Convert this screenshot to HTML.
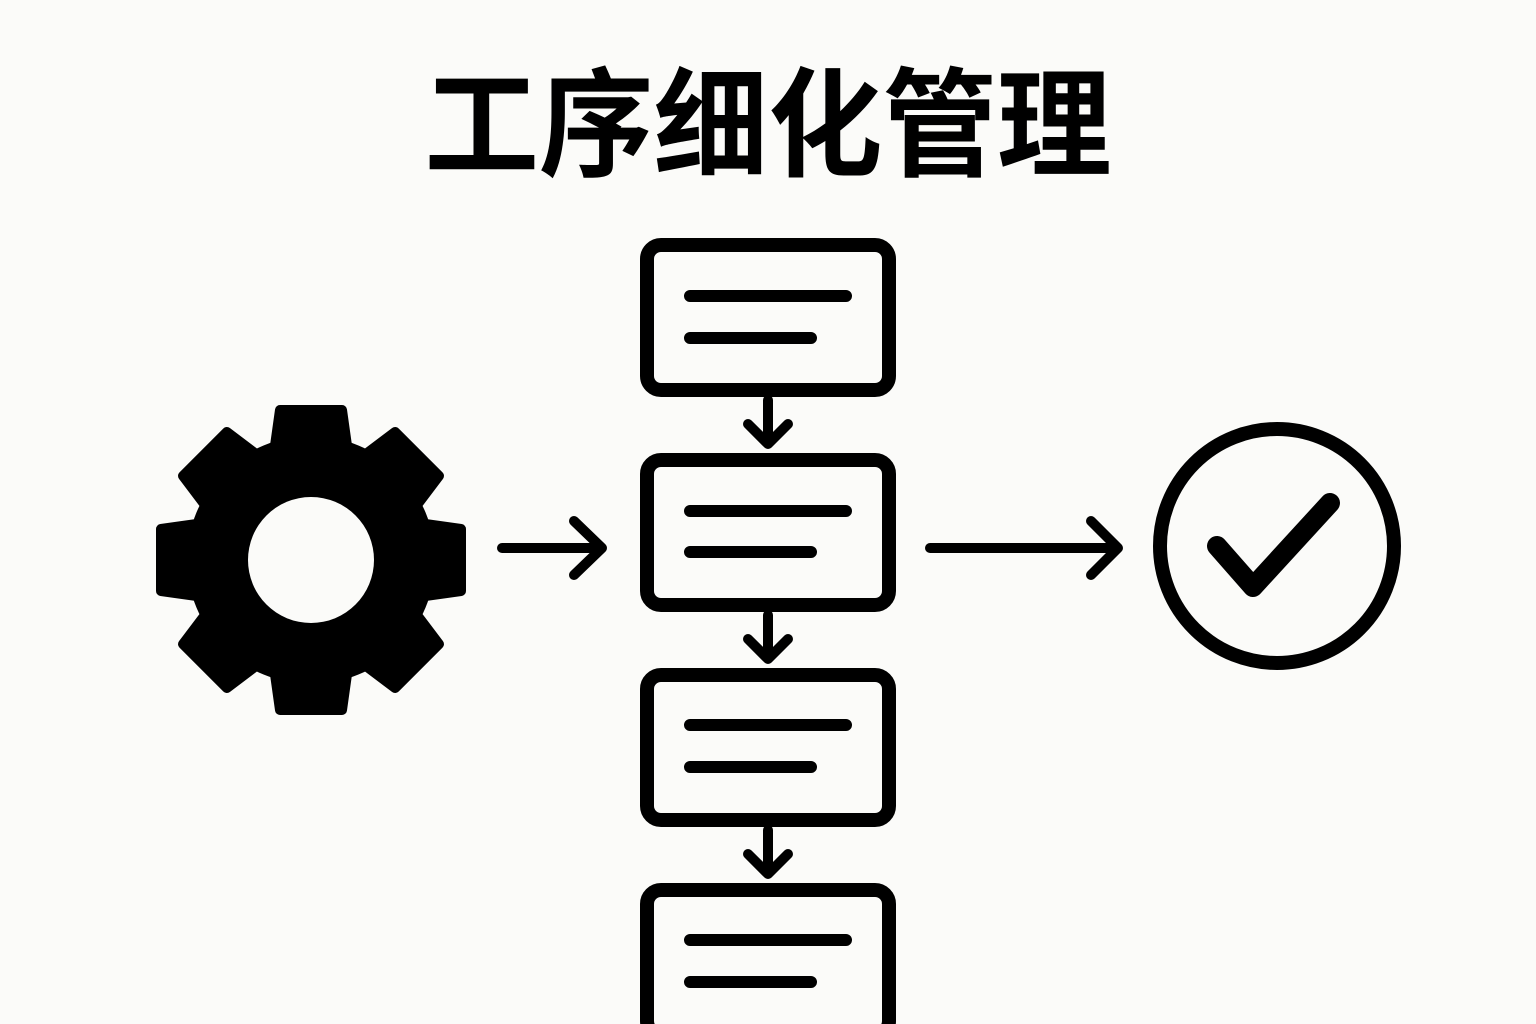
<!DOCTYPE html>
<html><head><meta charset="utf-8"><style>
html,body{margin:0;padding:0;background:#fbfbf9;}
svg{display:block}
</style></head><body>
<svg width="1536" height="1024" viewBox="0 0 1536 1024" xmlns="http://www.w3.org/2000/svg">
<defs>
  <path id="tooth" d="M-38 -100L-31 -150L31 -150L38 -100Z" stroke="#000" stroke-width="10" stroke-linejoin="round" fill="#000"/>
</defs>
<rect width="1536" height="1024" fill="#fbfbf9"/>
<text x="768" y="167" text-anchor="middle" textLength="687" lengthAdjust="spacingAndGlyphs" font-family="'Liberation Sans','Noto Sans CJK SC',sans-serif" font-weight="bold" font-size="118" fill="#000">工序细化管理</text>
<g fill="none" stroke="#000" stroke-linecap="round" stroke-linejoin="round">
  <g stroke-width="14">
    <rect x="647" y="245" width="242" height="145" rx="14"/>
    <rect x="647" y="460" width="242" height="145" rx="14"/>
    <rect x="647" y="675" width="242" height="145" rx="14"/>
    <rect x="647" y="890" width="242" height="145" rx="14"/>
  </g>
  <g stroke-width="12">
    <path d="M690 296H846M690 338H811"/>
    <path d="M690 511H846M690 552H811"/>
    <path d="M690 725H846M690 767H811"/>
    <path d="M690 940H846M690 982H811"/>
  </g>
  <g stroke-width="10">
    <path d="M768 400V442M748 424L768 444L788 424"/>
    <path d="M768 615V657M748 639L768 659L788 639"/>
    <path d="M768 830V872M748 854L768 874L788 854"/>
    <path d="M502 548H602M574 521L602 548L574 575"/>
    <path d="M930 548H1117M1091 521L1118 548L1091 575"/>
  </g>
  <circle cx="1277" cy="546" r="117" stroke-width="14"/>
  <path d="M1217 546L1253 587L1330 503" stroke-width="20"/>
</g>
<g fill="#000">
  <circle cx="311" cy="560" r="124"/>
  <g transform="translate(311,560)">
    <use href="#tooth"/>
    <use href="#tooth" transform="rotate(45)"/>
    <use href="#tooth" transform="rotate(90)"/>
    <use href="#tooth" transform="rotate(135)"/>
    <use href="#tooth" transform="rotate(180)"/>
    <use href="#tooth" transform="rotate(225)"/>
    <use href="#tooth" transform="rotate(270)"/>
    <use href="#tooth" transform="rotate(315)"/>
  </g>
  <circle cx="311" cy="560" r="63" fill="#fbfbf9"/>
</g>
</svg>
</body></html>
